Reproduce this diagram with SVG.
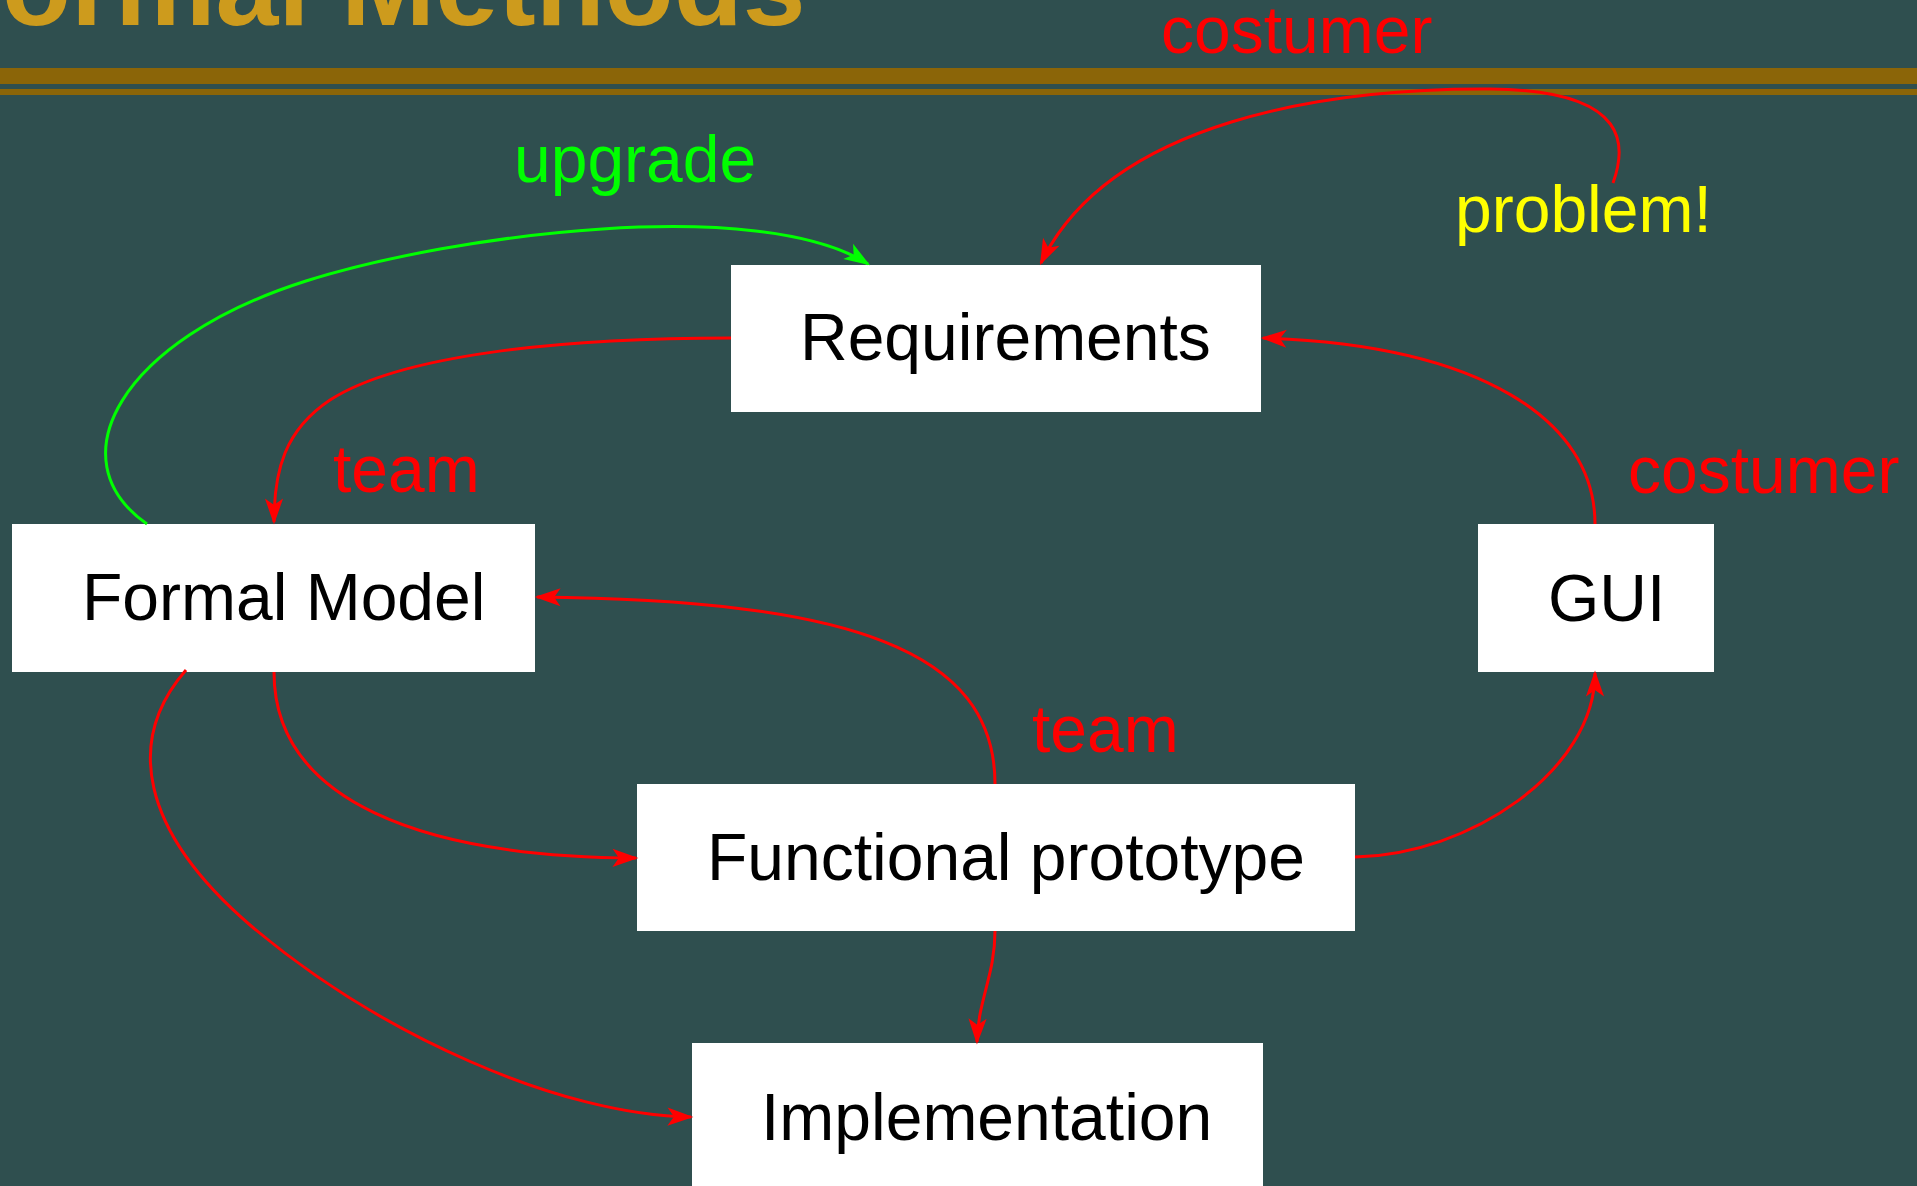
<svg xmlns="http://www.w3.org/2000/svg" width="1917" height="1186" viewBox="0 0 1917 1186">
<style>
.node rect{fill:#ffffff;}
.node text{font-family:"Liberation Sans",Arial,sans-serif;font-size:66px;fill:#000000;}
.lbl{font-family:"Liberation Sans",Arial,sans-serif;font-size:66px;}
.red{fill:#ff0000;}
.green{fill:#00ff00;}
.yellow{fill:#ffff00;}
.edge{fill:none;stroke-width:3;}
.er{stroke:#ff0000;}
.eg{stroke:#00ff00;}
</style>
<defs>
<marker id="ar" markerUnits="userSpaceOnUse" markerWidth="30" markerHeight="30" viewBox="-24 -12 28 24" refX="0" refY="0" orient="auto">
<path d="M0,0 L-20,-7 L-15,0 L-20,7 Z" fill="#ff0000" stroke="#ff0000" stroke-width="1.5" stroke-linejoin="miter"/>
</marker>
<marker id="ag" markerUnits="userSpaceOnUse" markerWidth="30" markerHeight="30" viewBox="-24 -12 28 24" refX="0" refY="0" orient="auto">
<path d="M0,0 L-20,-7 L-15,0 L-20,7 Z" fill="#00ff00" stroke="#00ff00" stroke-width="1.5" stroke-linejoin="miter"/>
</marker>
</defs>
<rect x="0" y="0" width="1917" height="1186" fill="#2f4f4f"/>
<g id="title">
<text x="2" y="25" font-family="'Liberation Sans',Arial,sans-serif" font-size="113" font-weight="bold" fill="#cd9b1d">ormal Methods</text>
<rect x="0" y="68" width="1917" height="16" fill="#8b6508"/>
<rect x="0" y="89" width="1917" height="6" fill="#8b6508"/>
</g>
<g id="nodes">
<g id="requirements" class="node"><rect x="731" y="265" width="530" height="147"/><text x="800" y="360">Requirements</text></g>
<g id="formal-model" class="node"><rect x="12" y="524" width="523" height="148"/><text x="82" y="620">Formal Model</text></g>
<g id="gui" class="node"><rect x="1478" y="524" width="236" height="148"/><text x="1548" y="621">GUI</text></g>
<g id="functional-prototype" class="node"><rect x="637" y="784" width="718" height="147"/><text x="707" y="880">Functional prototype</text></g>
<g id="implementation" class="node"><rect x="692" y="1043" width="571" height="147"/><text x="761" y="1140">Implementation</text></g>
</g>
<g id="connectors">
<path class="edge eg" marker-end="url(#ag)" d="M147,524 C55,460 120,340 306,281 C455,234 760,195 868,264"/>
<path class="edge er" marker-end="url(#ar)" d="M731,338 C560,338 400,355 330,400 C285,430 274,470 274,522"/>
<path class="edge er" marker-end="url(#ar)" d="M1613,183 C1625,150 1635,90 1490,89 C1330,88 1110,120 1041,263"/>
<path class="edge er" marker-end="url(#ar)" d="M1595,524 C1595,420 1480,345 1263,338"/>
<path class="edge er" marker-end="url(#ar)" d="M995,784 C995,650 850,600 537,597"/>
<path class="edge er" marker-end="url(#ar)" d="M274,672 C274,800 420,857 636,858"/>
<path class="edge er" marker-end="url(#ar)" d="M186,670 C125,740 140,830 250,925 C380,1035 560,1115 691,1117"/>
<path class="edge er" marker-end="url(#ar)" d="M1355,857 C1470,855 1595,770 1595,673"/>
<path class="edge er" marker-end="url(#ar)" d="M995,931 C995,975 978,1000 977,1042"/>
</g>
<g id="labels">
<text class="lbl red" x="1161" y="53">costumer</text>
<text class="lbl yellow" x="1455" y="232">problem!</text>
<text class="lbl green" x="514" y="182">upgrade</text>
<text class="lbl red" x="333" y="492">team</text>
<text class="lbl red" x="1628" y="493">costumer</text>
<text class="lbl red" x="1032" y="752">team</text>
</g>
</svg>
